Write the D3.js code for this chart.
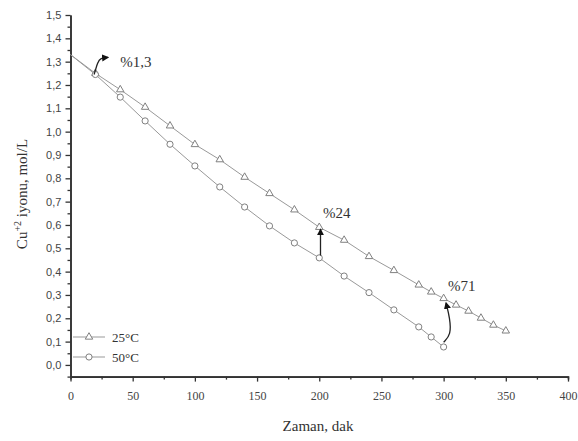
<!DOCTYPE html>
<html>
<head>
<meta charset="utf-8">
<script src="https://cdn.jsdelivr.net/npm/d3@7"></script>
<style>
  html, body { margin: 0; padding: 0; background: #fff; }
  svg { display: block; }
</style>
</head>
<body>
<svg id="chart" width="578" height="441"></svg>
<script>
// Cu(+2) ion concentration over time at two temperatures
const timeMin = [0, 20, 40, 60, 80, 100, 120, 140, 160, 180, 200, 220, 240, 260, 280, 290, 300, 310, 320, 330, 340, 350];
const conc25 = [1.33, 1.25, 1.18, 1.105, 1.025, 0.945, 0.88, 0.805, 0.735, 0.665, 0.59, 0.535, 0.465, 0.405, 0.343, 0.313, 0.285, 0.257, 0.231, 0.201, 0.171, 0.146];
const time50 = [0, 20, 40, 60, 80, 100, 120, 140, 160, 180, 200, 220, 240, 260, 280, 290, 300];
const conc50 = [1.33, 1.245, 1.148, 1.046, 0.946, 0.853, 0.763, 0.677, 0.596, 0.523, 0.459, 0.381, 0.31, 0.236, 0.163, 0.12, 0.077];

const seriesNames = ["25\u00B0C", "50\u00B0C"];
const xTicks = [0, 50, 100, 150, 200, 250, 300, 350, 400];
const yTicks = [0, 0.1, 0.2, 0.3, 0.4, 0.5, 0.6, 0.7, 0.8, 0.9, 1.0, 1.1, 1.2, 1.3, 1.4, 1.5];

// reduction labels: text, anchor point of text
const noteText = ["%1,3", "%24", "%71"];
const noteX = [40, 203, 303.5];
const noteY = [1.277, 0.63, 0.317];

const svg = d3.select("#chart");
const x = d3.scaleLinear().domain([0, 400]).range([70.5, 568]);
const y = d3.scaleLinear().domain([-0.05, 1.5]).range([376.6, 15]);

const axisColor = "#333";
const lineColor = "#999";
const markColor = "#808080";
const serif = "'Liberation Serif', 'Times New Roman', serif";
const sans = "'Liberation Sans', Arial, sans-serif";
const fmt = d => d3.format(".1f")(d).replace(".", ",");

// defs: arrowhead
svg.append("defs").append("marker")
  .attr("id", "head").attr("viewBox", "0 0 10 10")
  .attr("refX", 8).attr("refY", 5)
  .attr("markerWidth", 5.5).attr("markerHeight", 5.5)
  .attr("orient", "auto")
  .append("path").attr("d", "M0,0 L10,5 L0,10 Z").attr("fill", "#111");

// X axis
const xAxisG = svg.append("g").attr("transform", `translate(0,${y(-0.05)})`);
xAxisG.call(d3.axisBottom(x).tickValues(d3.range(25, 400, 50)).tickSize(3).tickFormat(""));
xAxisG.call(g => g.append("g").call(d3.axisBottom(x).tickValues(xTicks).tickSize(5).tickSizeOuter(0).tickFormat(d3.format("d"))));
xAxisG.selectAll("path.domain").attr("stroke", axisColor).attr("stroke-width", 1.6);
xAxisG.selectAll(".tick line").attr("stroke", axisColor).attr("stroke-width", 1.3);
xAxisG.selectAll(".tick text").attr("font-family", serif).attr("font-size", 12).attr("fill", "#444").attr("dy", "1.25em");

// Y axis
const yAxisG = svg.append("g").attr("transform", `translate(${x(0)},0)`);
yAxisG.call(d3.axisLeft(y).tickValues(d3.range(-0.05, 1.5, 0.1)).tickSize(3).tickSizeOuter(0).tickFormat(""));
yAxisG.call(g => g.append("g").call(d3.axisLeft(y).tickValues(yTicks).tickSize(5).tickSizeOuter(0).tickFormat(fmt)));
yAxisG.selectAll("path.domain").attr("stroke", axisColor).attr("stroke-width", 1.6);
yAxisG.selectAll(".tick line").attr("stroke", axisColor).attr("stroke-width", 1.3);
yAxisG.selectAll(".tick text").attr("font-family", sans).attr("font-size", 11).attr("fill", "#444").attr("dx", "-0.1em");

// Axis titles
svg.append("text")
  .attr("x", 318).attr("y", 431)
  .attr("text-anchor", "middle")
  .attr("font-family", serif).attr("font-size", 15).attr("fill", "#333")
  .text("Zaman, dak");

const yTitle = svg.append("text")
  .attr("transform", "translate(27,194) rotate(-90)")
  .attr("text-anchor", "middle")
  .attr("font-family", serif).attr("font-size", 15).attr("fill", "#333");
yTitle.append("tspan").text("Cu");
yTitle.append("tspan").attr("dy", -6).attr("font-size", 10).text("+2");
yTitle.append("tspan").attr("dy", 6).text(" iyonu, mol/L");

// Series lines
const line = d3.line().x(d => x(d[0])).y(d => y(d[1]));
const pts25 = timeMin.map((t, i) => [t, conc25[i]]);
const pts50 = time50.map((t, i) => [t, conc50[i]]);

svg.append("path").datum(pts25).attr("d", line)
  .attr("fill", "none").attr("stroke", lineColor).attr("stroke-width", 1);
svg.append("path").datum(pts50).attr("d", line)
  .attr("fill", "none").attr("stroke", lineColor).attr("stroke-width", 1);

// markers
const tri = d3.symbol().type(d3.symbolTriangle).size(24);
svg.append("g").selectAll("path").data(pts25.slice(1)).join("path")
  .attr("d", tri)
  .attr("transform", d => `translate(${x(d[0])},${y(d[1])})`)
  .attr("fill", "#fff").attr("stroke", markColor).attr("stroke-width", 1);
svg.append("g").selectAll("circle").data(pts50.slice(1)).join("circle")
  .attr("cx", d => x(d[0])).attr("cy", d => y(d[1])).attr("r", 3.1)
  .attr("fill", "#fff").attr("stroke", markColor).attr("stroke-width", 1);

// Difference arrows
const arrows = [
  // from the 50°C point at 20 min, rising then turning right
  [[19, conc50[1]], [22, 1.30], [24, 1.315], [30, 1.318]],
  // vertical at 200 min
  [[201, conc50[10] + 0.01], [201, conc25[10] - 0.01]],
  // curved at 300 min
  [[300, conc50[16] + 0.02], [306, 0.13], [305, 0.2], [302, 0.265]]
];
const curve = d3.line().x(d => x(d[0])).y(d => y(d[1])).curve(d3.curveBasis);
arrows.forEach(a => {
  svg.append("path").attr("d", curve(a))
    .attr("fill", "none").attr("stroke", "#222").attr("stroke-width", 1.3)
    .attr("marker-end", "url(#head)");
});

// Reduction labels
svg.append("g").selectAll("text").data(noteText).join("text")
  .attr("x", (d, i) => x(noteX[i])).attr("y", (d, i) => y(noteY[i]))
  .attr("font-family", serif).attr("font-size", 15).attr("fill", "#333")
  .text(d => d);

// Legend
const legend = svg.append("g");
const legY = [337, 357];
seriesNames.forEach((name, i) => {
  const g = legend.append("g").attr("transform", `translate(0,${legY[i]})`);
  g.append("line").attr("x1", 73).attr("x2", 105).attr("y1", 0).attr("y2", 0)
    .attr("stroke", lineColor).attr("stroke-width", 1);
  if (i === 0) {
    g.append("path").attr("d", tri).attr("transform", "translate(89,0)")
      .attr("fill", "#fff").attr("stroke", markColor);
  } else {
    g.append("circle").attr("cx", 89).attr("cy", 0).attr("r", 3.1)
      .attr("fill", "#fff").attr("stroke", markColor);
  }
  g.append("text").attr("x", 112).attr("y", 4.5)
    .attr("font-family", serif).attr("font-size", 13).attr("fill", "#333")
    .text(name);
});
</script>
</body>
</html>
